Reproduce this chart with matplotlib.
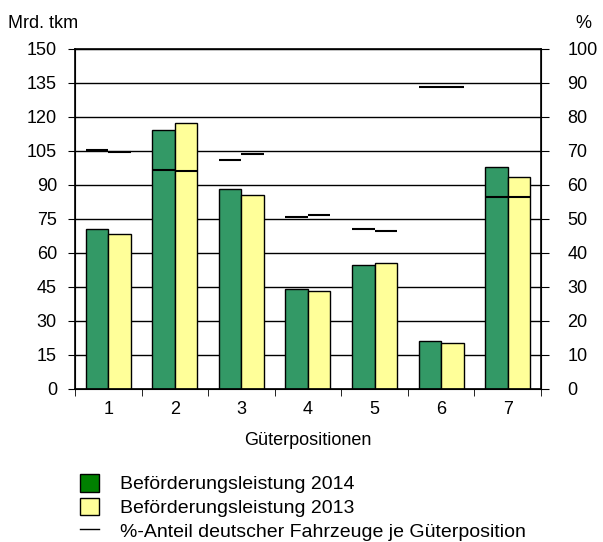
import matplotlib.pyplot as plt
import numpy as np
from matplotlib.patches import Patch
from matplotlib.lines import Line2D

plt.rcParams['font.family'] = ['Liberation Sans', 'DejaVu Sans']
plt.rcParams['font.size'] = 13

positions = [1, 2, 3, 4, 5, 6, 7]
tkm_2014 = [70.5, 114.3, 88.2, 44.0, 54.5, 21.0, 98.1]
tkm_2013 = [68.2, 117.3, 85.7, 43.2, 55.5, 20.2, 93.4]
share_2014 = [70.3, 64.3, 67.4, 50.5, 47.0, 88.7, 56.6]
share_2013 = [69.6, 64.0, 69.2, 51.1, 46.4, 88.7, 56.6]

x = np.array(positions)
w = 0.338

fig = plt.figure(figsize=(6.03, 5.42), dpi=100)
ax = fig.add_axes([0.1244, 0.2823, 0.7726, 0.6273])

ax.set_axisbelow(True)
ax.grid(axis='y', color='black', linewidth=1)
ax.bar(x - w / 2, tkm_2014, width=w, color='#339966', edgecolor='black', linewidth=1)
ax.bar(x + w / 2, tkm_2013, width=w, color='#FFFF99', edgecolor='black', linewidth=1)

ax.set_xlim(0.5, 7.5)
ax.set_ylim(0, 150)
ax.set_yticks(np.arange(0, 151, 15))
ax.set_xticks(x)
ax.set_xticklabels([str(p) for p in positions])
ax.set_xticks(np.arange(0.5, 7.6, 1), minor=True)
ax.tick_params(axis='x', which='major', length=0, pad=9)
ax.tick_params(axis='x', which='minor', length=5, direction='out')
ax.tick_params(axis='y', length=5, direction='out', pad=8)
for s in ax.spines.values():
    s.set_linewidth(1.2)
ax.set_xlabel('Güterpositionen', labelpad=10)

ax2 = ax.twinx()
ax2.set_ylim(0, 100)
ax2.set_yticks(np.arange(0, 101, 10))
ax2.tick_params(axis='y', length=6, direction='out', pad=13)
ax2.hlines(share_2014, x - w, x, color='black', linewidth=1.5)
ax2.hlines(share_2013, x, x + w, color='black', linewidth=1.5)

fig.text(0.013, 0.957, 'Mrd. tkm', ha='left', va='center')
fig.text(0.967, 0.957, '%', ha='center', va='center')

handles = [
    Patch(facecolor='#008000', edgecolor='black', label='Beförderungsleistung 2014'),
    Patch(facecolor='#FFFF99', edgecolor='black', label='Beförderungsleistung 2013'),
    Line2D([0], [0], color='black', linewidth=1, label='%-Anteil deutscher Fahrzeuge je Güterposition'),
]
fig.legend(handles=handles, loc='lower left', bbox_to_anchor=(0.103, -0.03),
           frameon=False, handlelength=1.0, handleheight=1.0, handletextpad=1.1,
           labelspacing=0.22, fontsize=14)

fig.savefig('out.png', dpi=100)
